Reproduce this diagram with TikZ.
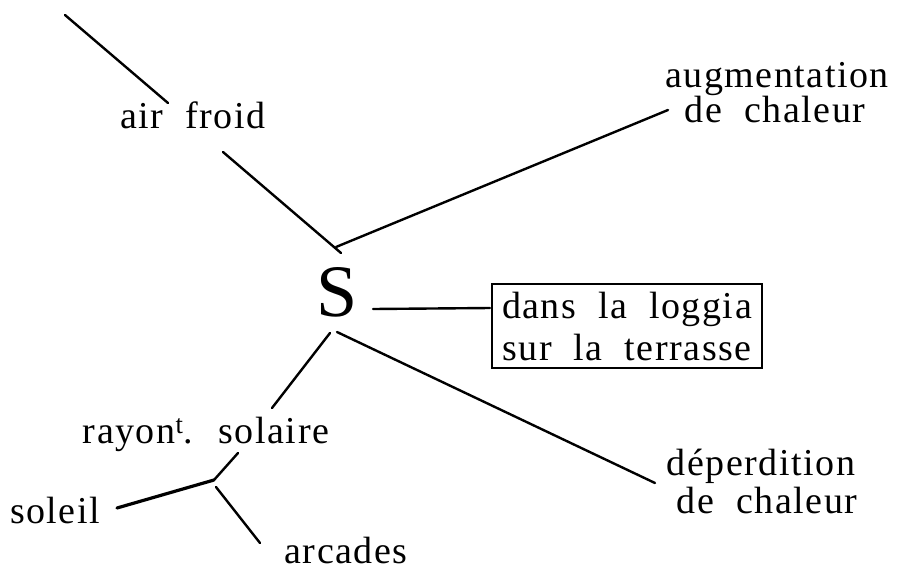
\documentclass[tikz,border=0pt]{standalone}
\usepackage{fontspec}
\setmainfont{Liberation Serif}
\newfontfamily\spaced[LetterSpace=4,WordSpace=2]{Liberation Serif}
\tikzset{
  lbl/.style={inner sep=0pt, anchor=base, font=\spaced\fontsize{38}{42}\selectfont},
  conn/.style={line width=2.4pt, line cap=round},
  thickconn/.style={line width=3.2pt, line cap=round},
  framebox/.style={draw, line width=2.8pt, minimum width=270pt, minimum height=84pt,
    inner sep=0pt, align=center, font=\spaced\fontsize{38}{42}\selectfont}
}
\begin{document}
\begin{tikzpicture}[x=1pt,y=-1pt]
\useasboundingbox (0,0) rectangle (897,571);
% nodes
\node[inner sep=0pt, font=\fontsize{74}{74}\selectfont] (S) at (337,292) {S};
\node[lbl] (air) at (193,128) {air froid};
\node[lbl] (aug1) at (777,87) {augmentation};
\node[lbl] (aug2) at (775,122) {de chaleur};
\node[framebox] (box) at (627,326) {dans la loggia\\sur la terrasse};
\node[lbl] (ray) at (206,443) {rayon\textsuperscript{t}. solaire};
\node[lbl] (sol) at (55,523) {soleil};
\node[lbl] (arc) at (346,563) {arcades};
\node[lbl] (dep1) at (761,475) {déperdition};
\node[lbl] (dep2) at (767,513) {de chaleur};
% connector end points
\coordinate (top) at (65,15);
\coordinate (airA) at (168,103);
\coordinate (airB) at (223,152);
\coordinate (Stop) at (341,253);
\coordinate (J) at (336,247);
\coordinate (augE) at (668,110);
\coordinate (Sright) at (373,309);
\coordinate (boxL) at (490,308);
\coordinate (Sbl) at (330,333);
\coordinate (rayE) at (272,408);
\coordinate (Sbr) at (337,332);
\coordinate (depE) at (655,483);
\coordinate (rayB) at (238,453);
\coordinate (K) at (214,480);
\coordinate (solE) at (117,508);
\coordinate (arcS) at (216,487);
\coordinate (arcE) at (260,543);
% connectors
\draw[conn] (top) -- (airA);
\draw[conn] (airB) -- (Stop);
\draw[conn] (J) -- (augE);
\draw[conn] (Sright) -- (boxL);
\draw[conn] (Sbl) -- (rayE);
\draw[conn] (Sbr) -- (depE);
\draw[conn] (rayB) -- (K);
\draw[thickconn] (solE) -- (K);
\draw[conn] (arcS) -- (arcE);
\end{tikzpicture}
\end{document}
